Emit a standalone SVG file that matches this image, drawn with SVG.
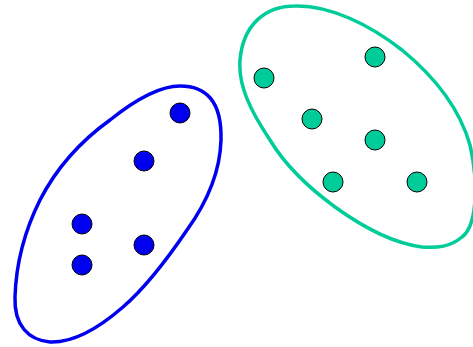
<svg xmlns="http://www.w3.org/2000/svg" width="473" height="347" viewBox="0 0 473 347">
<style>
.loop{fill:none;stroke-width:3.5;stroke-linejoin:round}
.b{stroke:#0000f0}
.t{stroke:#00cc99}
.dot{stroke:#000;stroke-width:1}
.db{fill:#0000f0}
.dt{fill:#00cc99}
</style>
<rect width="473" height="347" fill="#fff"/>
<g id="cluster-blue">
<path class="loop b" d="M180,86 C205,86 222,100 221,140 C220,175 205,205 187,230 C168,258 145,288 123,307 C100,327 75,343 50,342 C28,340 14,325 15,297 C16,265 25,230 40,200 C58,165 85,138 110,120 C135,100 160,86 180,86 Z"/>
</g>
<g id="cluster-teal">
<path class="loop t" d="M295,6 C330,5 370,25 402,50 C435,77 460,110 470,145 C478,180 478,225 462,237 C450,247 438,248 422,247 C390,243 360,225 335,207 C305,185 285,165 270,140 C250,110 238,85 240,60 C243,25 265,6 295,6 Z"/>
</g>
<g id="b1"><circle class="dot db" cx="180" cy="113" r="10"/></g>
<g id="b2"><circle class="dot db" cx="144" cy="161" r="10"/></g>
<g id="b3"><circle class="dot db" cx="82" cy="224" r="10"/></g>
<g id="b4"><circle class="dot db" cx="144" cy="245" r="10"/></g>
<g id="b5"><circle class="dot db" cx="82" cy="265" r="10"/></g>
<g id="t1"><circle class="dot dt" cx="264" cy="78" r="10"/></g>
<g id="t2"><circle class="dot dt" cx="375" cy="57" r="10"/></g>
<g id="t3"><circle class="dot dt" cx="312" cy="119" r="10"/></g>
<g id="t4"><circle class="dot dt" cx="375" cy="140" r="10"/></g>
<g id="t5"><circle class="dot dt" cx="333" cy="182" r="10"/></g>
<g id="t6"><circle class="dot dt" cx="417" cy="182" r="10"/></g>
<g id="connectors"></g>
</svg>
